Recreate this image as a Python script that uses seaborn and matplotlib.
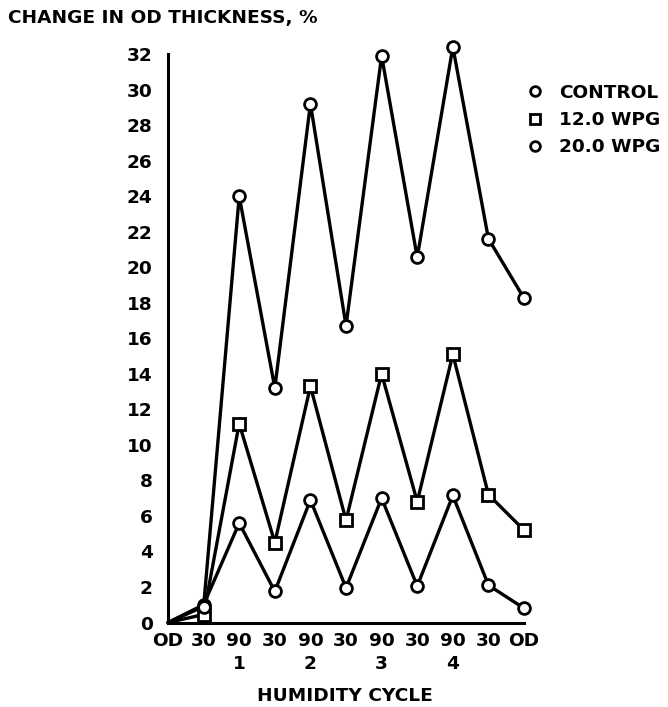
import matplotlib
matplotlib.use("Agg")
import matplotlib.pyplot as plt
from matplotlib.lines import Line2D
import seaborn as sns
import pandas as pd

# humidity cycle steps (positions along x)
steps = ["OD", "30", "90\n1", "30", "90\n2", "30", "90\n3", "30", "90\n4", "30", "OD"]
pos = list(range(len(steps)))

control = [0, 1.0, 5.6, 1.75, 6.9, 1.95, 7.0, 2.05, 7.15, 2.1, 0.8]
wpg12 = [0, 0.45, 11.2, 4.5, 13.3, 5.75, 14.0, 6.8, 15.1, 7.2, 5.2]
wpg20 = [0, 0.9, 24.0, 13.2, 29.2, 16.7, 31.9, 20.55, 32.4, 21.6, 18.25]

series = ["CONTROL", "12.0 WPG", "20.0 WPG"]
values = [control, wpg12, wpg20]
markers = ["o", "s", "o"]

df = pd.concat([pd.DataFrame({"pos": pos, "value": v, "series": s})
                for s, v in zip(series, values)], ignore_index=True)

sns.set_style("white", {"text.color": "black", "xtick.color": "black",
                        "ytick.color": "black", "axes.labelcolor": "black"})
plt.rcParams["font.family"] = ["DejaVu Sans"]
plt.rcParams["font.weight"] = "bold"
fs = 13.3

fig = plt.figure(figsize=(6.68, 7.07), dpi=100)
ax = fig.add_axes([0.2515, 0.1195, 0.7845 - 0.2515, 0.9236 - 0.1195])

for s, m in zip(series, markers):
    sub = df[df["series"] == s]
    sns.lineplot(data=sub, x="pos", y="value", ax=ax, color="black", lw=2.4,
                 marker=m, markersize=8.5, markerfacecolor="white",
                 markeredgecolor="black", markeredgewidth=2.0,
                 markevery=list(range(1, len(pos))), clip_on=False, zorder=3)

ax.set_xlim(0, 10)
ax.set_ylim(0, 32)
ax.set_xticks(pos)
ax.set_xticklabels(steps, fontsize=fs, fontweight="bold", linespacing=1.35)
ax.set_yticks(range(0, 33, 2))
ax.set_yticklabels([str(v) for v in range(0, 33, 2)], fontsize=fs, fontweight="bold")
ax.tick_params(axis="y", direction="in", length=8, width=2, pad=11, colors="black")
ax.tick_params(axis="x", direction="in", length=6, width=2, pad=7, colors="black")
for side in ["top", "right"]:
    ax.spines[side].set_visible(False)
for side in ["left", "bottom"]:
    ax.spines[side].set_linewidth(2.2)
    ax.spines[side].set_color("black")
ax.set_xlabel("")
ax.set_ylabel("")

fig.text(0.012, 0.975, "CHANGE IN OD THICKNESS, %", fontsize=fs, fontweight="bold",
         ha="left", va="center", color="black")
fig.text(0.517, 0.015, "HUMIDITY CYCLE", fontsize=fs, fontweight="bold",
         ha="center", va="center", color="black")

handles = [Line2D([], [], ls="none", marker=m, markersize=7, markerfacecolor="white",
                  markeredgecolor="black", markeredgewidth=2.0) for m in markers]
fig.legend(handles, series, loc="upper left", bbox_to_anchor=(0.762, 0.905),
           frameon=False, fontsize=fs, handletextpad=0.8, labelspacing=0.5,
           handlelength=1.0, labelcolor="black")

fig.savefig("out.png", dpi=100)
